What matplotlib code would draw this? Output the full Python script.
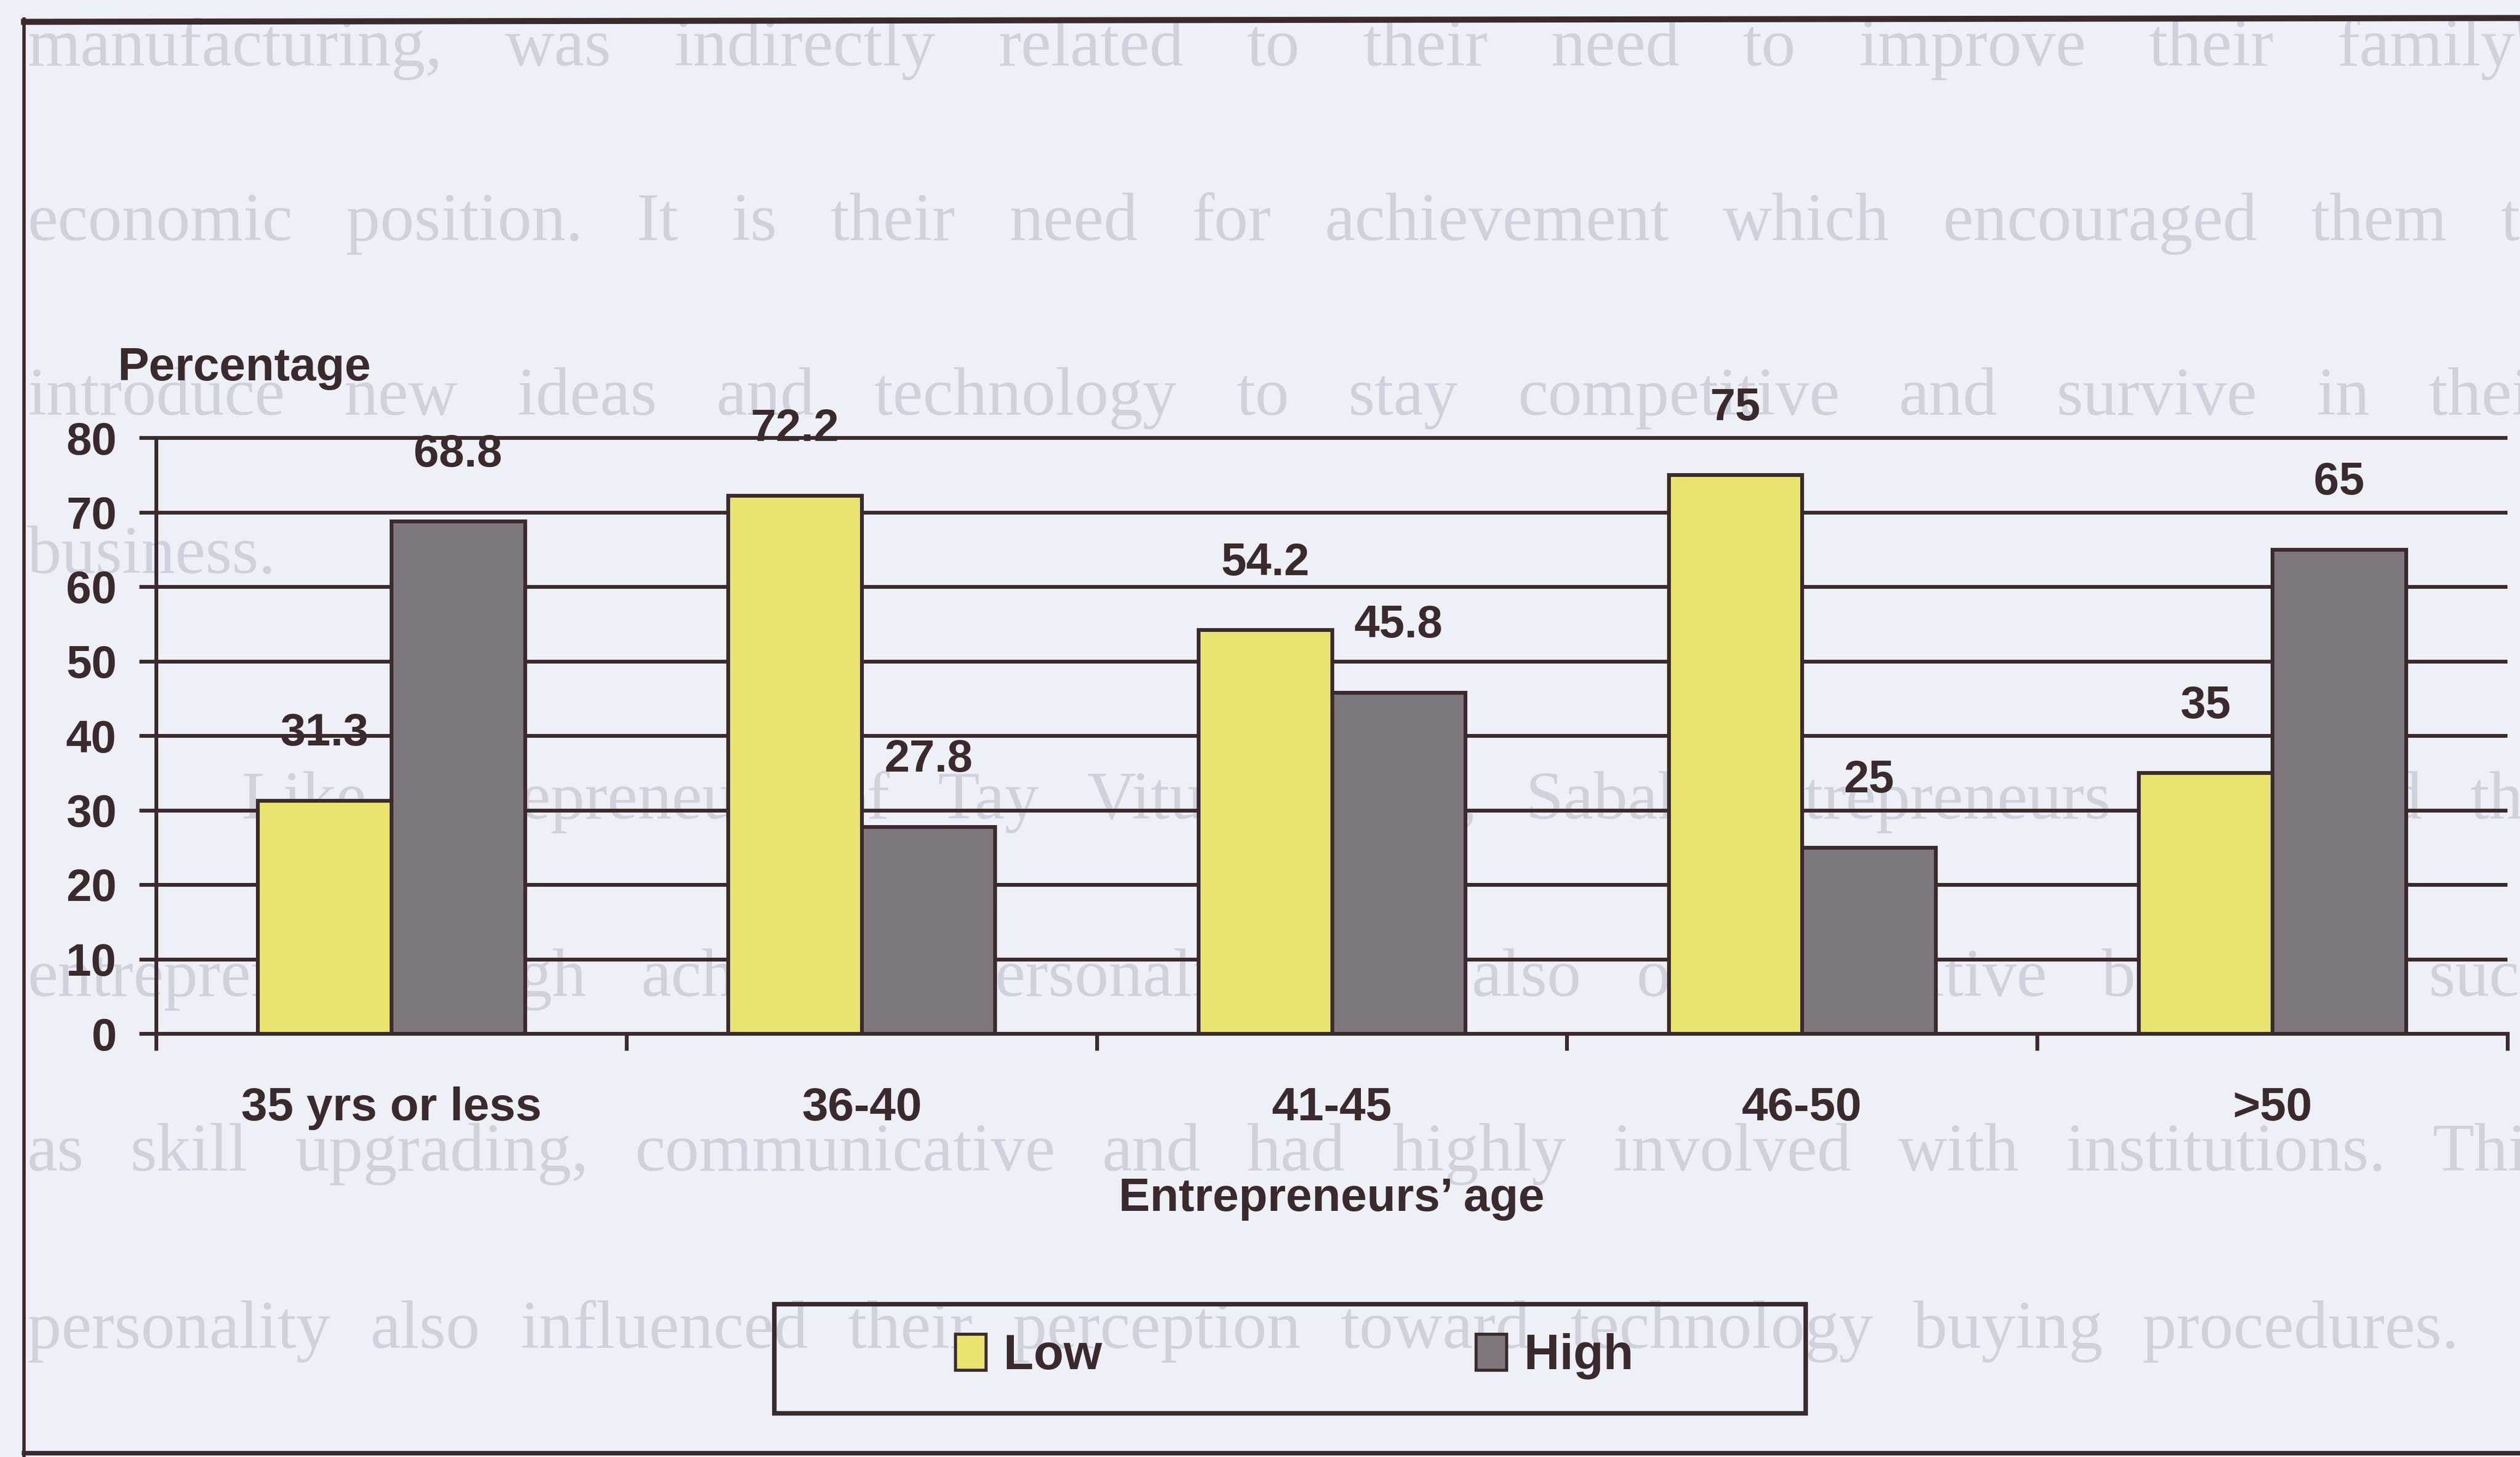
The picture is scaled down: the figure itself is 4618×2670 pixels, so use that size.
import numpy as np
import matplotlib
matplotlib.use("Agg")
import matplotlib.pyplot as plt
from matplotlib.lines import Line2D
from matplotlib.patches import Rectangle, Patch

# survey results: share of entrepreneurs by achievement level
age_groups = ["35 yrs or less", "36-40", "41-45", "46-50", ">50"]
low = [31.3, 72.2, 54.2, 75, 35]
high = [68.8, 27.8, 45.8, 25, 65]
y_ticks = [0, 10, 20, 30, 40, 50, 60, 70, 80]

# page text showing through from the other side of the sheet
page_lines = [
    "manufacturing, was indirectly related to their need to improve their family's",
    "economic position.  It is their need for achievement which encouraged them to",
    "introduce new ideas and technology to stay competitive and survive in their",
    "business.",
    "Like entrepreneurs of Tay Vitus's study, Sabah entrepreneurs who had the",
    "entrepreneurs' high achieving personality had also other positive behaviour such",
    "as skill upgrading, communicative and had highly involved with institutions.  This",
    "personality also influenced their perception toward technology buying procedures.",
]
page_x0 = [50, 50, 50, 50, 442, 50, 50, 50]
page_x1 = [4680, 4680, 4680, None, 4680, 4680, 4680, 4506]
page_base = [120, 440, 760, 1050, 1500, 1825, 2145, 2470]

W, H = 4618, 2670
BG = "#edf0f7"
INK = "#3b2a2d"
YELLOW = "#e9e36f"
GREY = "#7f777e"
GHOST = "#cfd2dc"

plt.rcParams["font.family"] = ["Liberation Sans", "DejaVu Sans"]
plt.rcParams["font.weight"] = "bold"

fig = plt.figure(figsize=(W / 100, H / 100), dpi=100, facecolor=BG)
renderer = fig.canvas.get_renderer()


def px(x, y):
    return x / W, 1 - y / H


# faint reversed-page text, justified word by word
for line, x0, x1, yb in zip(page_lines, page_x0, page_x1, page_base):
    words = line.split()
    texts = [fig.text(0, px(0, yb)[1], w, fontsize=90, family="Liberation Serif",
                      fontweight="normal", color=GHOST, va="baseline", zorder=-5)
             for w in words]
    widths = [t.get_window_extent(renderer).width for t in texts]
    if x1 is None or len(words) < 2:
        gap = texts[0].get_fontsize() * 100 / 72 * 0.25
    else:
        gap = (x1 - x0 - sum(widths)) / (len(words) - 1)
    x = x0
    for t, w in zip(texts, widths):
        t.set_x(x / W)
        x += w + gap

# chart area
ax_l, ax_r, y0_px, y80_px = 286, 4595, 1894, 802
per_unit = (y0_px - y80_px) / 80
top_val = 80.5
ax = fig.add_axes([ax_l / W, 1 - y0_px / H, (ax_r - ax_l) / W, top_val * per_unit / H])
ax.set_facecolor("none")

x = np.arange(len(age_groups))
bw = 0.284
b1 = ax.bar(x - bw / 2, low, bw, color=YELLOW, edgecolor=INK, linewidth=5, label="Low", zorder=3)
b2 = ax.bar(x + bw / 2, high, bw, color=GREY, edgecolor=INK, linewidth=5, label="High", zorder=3)

for bars, vals in ((b1, low), (b2, high)):
    for rect, v in zip(bars, vals):
        ax.annotate(f"{v:g}", (rect.get_x() + rect.get_width() / 2, v),
                    xytext=(0, 60), textcoords="offset points", ha="center", va="bottom",
                    fontsize=60, color=INK, annotation_clip=False)

ax.set_xlim(-0.5, len(age_groups) - 0.5)
ax.set_ylim(0, top_val)
ax.set_yticks(y_ticks)
ax.yaxis.grid(True, color=INK, linewidth=5)
ax.set_axisbelow(True)

ax.set_xticks(x)
ax.set_xticklabels(age_groups)
ax.set_xticks(np.arange(-0.5, len(age_groups)), minor=True)
ax.tick_params(axis="x", which="major", length=0, pad=70, labelsize=62, labelcolor=INK)
ax.tick_params(axis="x", which="minor", direction="out", length=22, width=5, color=INK)
ax.tick_params(axis="y", direction="out", length=22, width=5, color=INK, pad=30,
               labelsize=60, labelcolor=INK)

for side in ("top", "right"):
    ax.spines[side].set_visible(False)
for side in ("left", "bottom"):
    ax.spines[side].set_color(INK)
    ax.spines[side].set_linewidth(5)
ax.spines["left"].set_bounds(0, 80)

ax.set_xlabel("Entrepreneurs\u2019 age", fontsize=62, fontweight="bold", color=INK, labelpad=62)
fig.text(*px(215, 697), "Percentage", fontsize=62, color=INK, va="baseline", ha="left")

# legend with its own frame
fig.add_artist(Rectangle(px(1419, 2590), (3309 - 1419) / W, 200 / H, transform=fig.transFigure,
                         facecolor="none", edgecolor=INK, linewidth=6))
handles = [Patch(facecolor=YELLOW, edgecolor=INK, linewidth=4, label="Low"),
           Patch(facecolor=GREY, edgecolor=INK, linewidth=4, label="High")]
fig.legend(handles=handles, loc="center", bbox_to_anchor=px(2372, 2486), ncol=2, frameon=False,
           fontsize=65, handlelength=0.62, handleheight=0.75, handletextpad=0.35,
           columnspacing=7.6, labelcolor=INK)

# page frame
fig.add_artist(Line2D([44 / W, 1], [1 - 40 / H, 1 - 33 / H], color=INK, linewidth=8))
fig.add_artist(Line2D([44 / W, 44 / W], [1 - 35 / H, 0], color=INK, linewidth=4.5))
fig.add_artist(Line2D([44 / W, 1], [1 - 2663 / H, 1 - 2663 / H], color=INK, linewidth=6))

fig.savefig("out.png", dpi=100, facecolor=BG)
